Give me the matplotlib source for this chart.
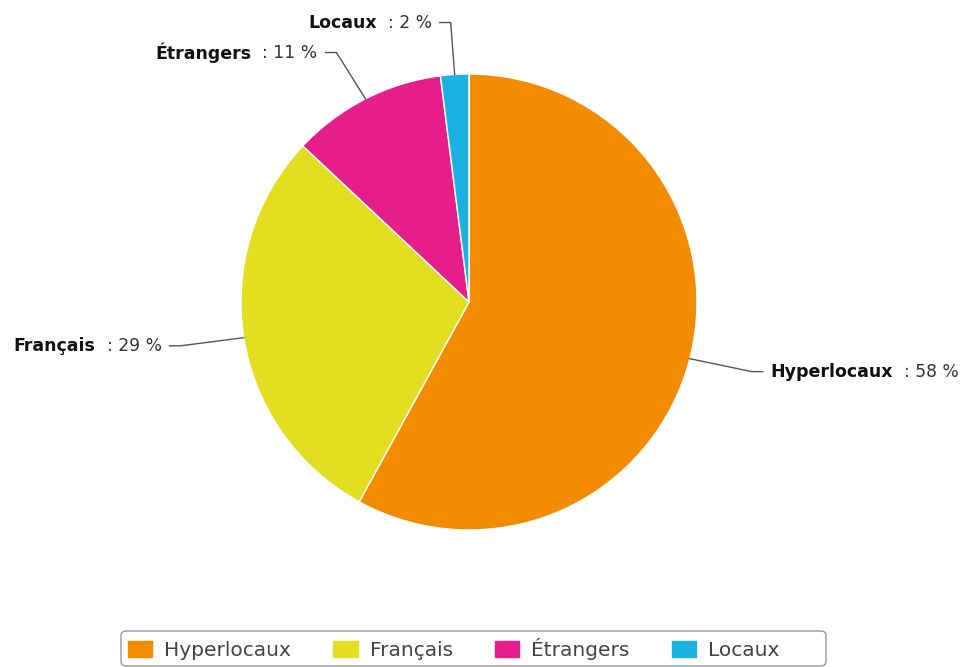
import numpy as np
import matplotlib.pyplot as plt
from matplotlib.patches import Patch, FancyBboxPatch

# data
categories = ["Hyperlocaux", "Français", "Étrangers", "Locaux"]
shares = [58, 29, 11, 2]
colors = ["#F28B00", "#E2DD1E", "#E61E8C", "#1BB1E0"]

W, H = 968, 667
fig = plt.figure(figsize=(W / 100, H / 100), dpi=100)
ax = fig.add_axes([0, 0, 1, 1])

cx, cy, r = 469, H - 302, 228
wedges, _ = ax.pie(shares, colors=colors, startangle=90, counterclock=False,
                   center=(cx, cy), radius=r, frame=True,
                   wedgeprops=dict(edgecolor="white", linewidth=1))
ax.set_xlim(0, W)
ax.set_ylim(0, H)
ax.set_aspect("auto")
ax.axis("off")

renderer = fig.canvas.get_renderer()
rx, ry = 292, 280   # where the connector bends
seg, gap = 11, 8
for wdg, name, val in zip(wedges, categories, shares):
    ang = np.deg2rad((wdg.theta1 + wdg.theta2) / 2)
    px, py = cx + r * np.cos(ang), cy + r * np.sin(ang)
    ex, ey = cx + rx * np.cos(ang), cy + ry * np.sin(ang)
    side = 1 if np.cos(ang) >= 0 else -1
    tx = ex + side * seg
    ax.plot([px, ex, tx], [py, ey, ey], color="#555555", lw=1)
    tx = tx + side * gap
    value = "  : %d %%" % val
    if side > 0:
        t = ax.text(tx, ey, name, ha="left", va="center", fontsize=12.5,
                    fontweight="bold", color="#111111")
        w = t.get_window_extent(renderer).width
        ax.text(tx + w, ey, value, ha="left", va="center", fontsize=12.3,
                color="#333333")
    else:
        t = ax.text(tx, ey, value, ha="right", va="center", fontsize=12.3,
                    color="#333333")
        w = t.get_window_extent(renderer).width
        ax.text(tx - w, ey, name, ha="right", va="center", fontsize=12.5,
                fontweight="bold", color="#111111")

# legend box (drawn by hand, the items sit left-aligned inside it)
box = FancyBboxPatch((121, H - 666), 705, 35,
                     boxstyle="round,pad=0,rounding_size=5",
                     facecolor="white", edgecolor="#999999", lw=1, zorder=3)
ax.add_patch(box)

handles = [Patch(facecolor=c, edgecolor=c) for c in colors]
leg = ax.legend(handles, categories, loc="center left", ncol=4,
                bbox_to_anchor=(128 / W, (H - 649) / H), borderaxespad=0,
                frameon=False, fontsize=14.5, handlelength=1.2,
                handleheight=0.85, handletextpad=0.6, columnspacing=2.1,
                borderpad=0, labelcolor="#444444")
leg.set_zorder(4)

fig.savefig("out.png", dpi=100)
